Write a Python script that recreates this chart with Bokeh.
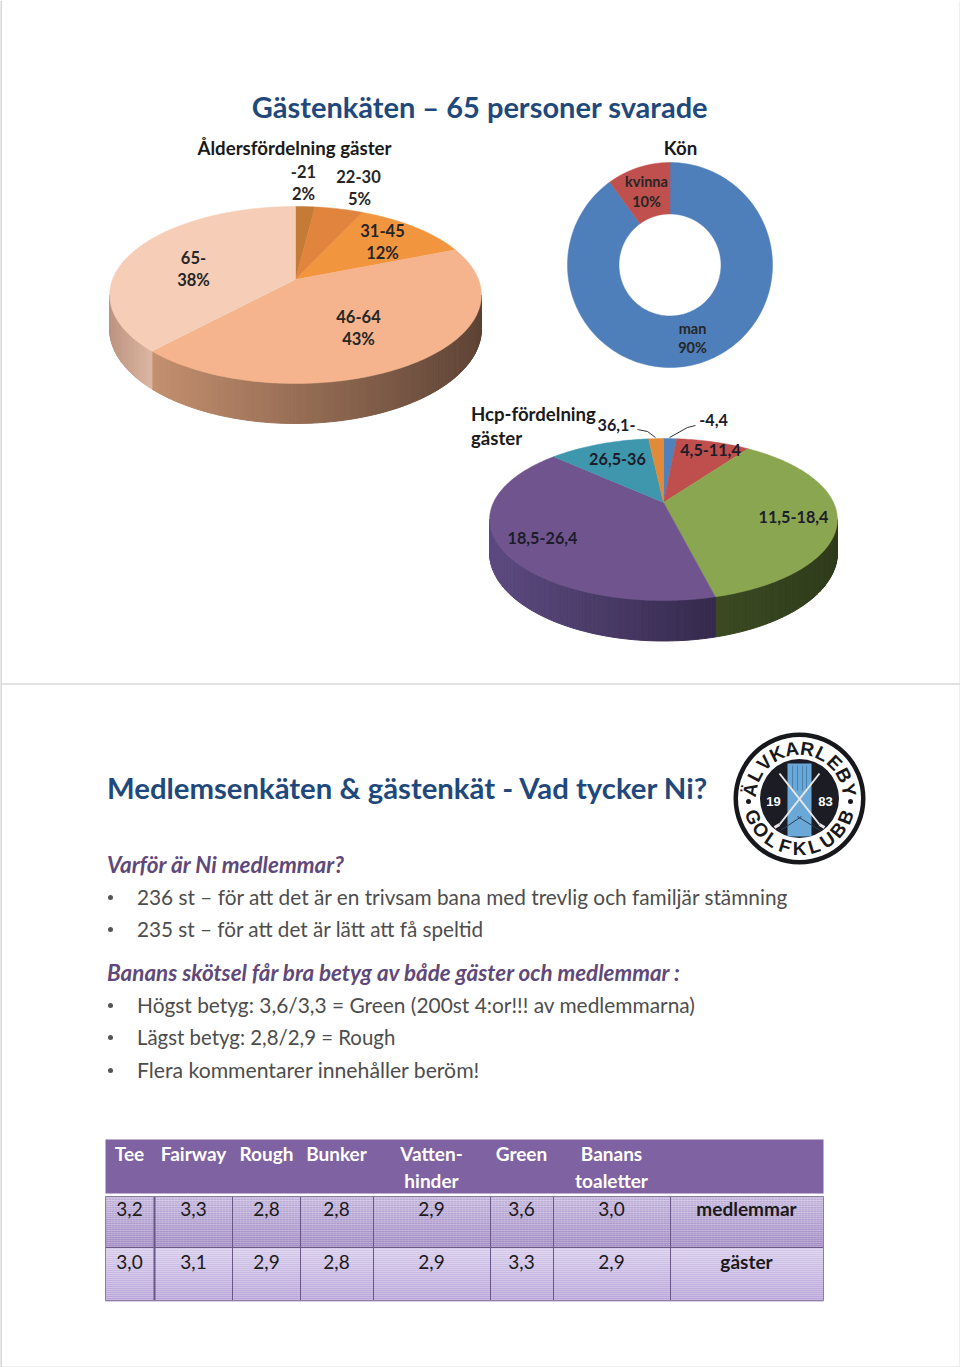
import numpy as np
from bokeh.plotting import figure
from bokeh.models import Range1d
from bokeh.core.properties import value
from bokeh.embed import file_html
from bokeh.resources import INLINE

# ---------- data ----------
age_labels = ["-21", "22-30", "31-45", "46-64", "65-"]
age_values = [2, 5, 12, 43, 38]
gender_labels = ["man", "kvinna"]
gender_values = [90, 10]
hcp_labels = ["-4,4", "4,5-11,4", "11,5-18,4", "18,5-26,4", "26,5-36", "36,1-"]
hcp_values = [1.5, 8.4, 36.2, 40.7, 11.5, 1.7]
tbl_head1 = ["Tee", "Fairway", "Rough", "Bunker", "Vatten-", "Green", "Banans"]
tbl_head2 = ["", "", "", "", "hinder", "", "toaletter"]
tbl_members = ["3,2", "3,3", "2,8", "2,8", "2,9", "3,6", "3,0"]
tbl_guests = ["3,0", "3,1", "2,9", "2,8", "2,9", "3,3", "2,9"]
tbl_rows = ["medlemmar", "gäster"]

BLUE = "#1f497d"; PURP = "#5f497a"; GREY = "#4d4d4d"; DARK = "#1a1a1a"
FONT = "Lato"

p = figure(width=960, height=1367, x_range=Range1d(0, 960), y_range=Range1d(1367, 0),
           toolbar_location=None, output_backend="svg", min_border=0)
p.axis.visible = False
p.grid.visible = False
p.outline_line_color = None
p.background_fill_color = "white"
p.border_fill_color = "white"

def T(x, y, s, size, color=DARK, style="normal", align="center", font=FONT, angle=0.0, dy=1):
    p.text(x=[x], y=[y - dy], text=[s], text_font=value(font), text_font_size=f"{size}px",
           text_color=color, text_font_style=style, text_align=align,
           text_baseline="middle", angle=[angle])

def mix(a, b, t):
    a = [int(a[i:i+2], 16) for i in (1, 3, 5)]
    b = [int(b[i:i+2], 16) for i in (1, 3, 5)]
    return "#%02x%02x%02x" % tuple(int(round(u + (v - u) * t)) for u, v in zip(a, b))

def pie3d(values, cx, cy, sx, sy, k, depth, tops, rims):
    v = np.asarray(values, float)
    edges = np.cumsum(np.r_[0, v]) / v.sum() * 2 * np.pi
    def pt(th):
        w = 1 + k * np.cos(th)
        return cx + sx * np.sin(th) / w, cy - sy * np.cos(th) / w
    th_r = np.arccos(-k)
    th_l = 2 * np.pi - th_r
    # rim
    for i in range(len(v)):
        a, b = max(edges[i], th_r), min(edges[i + 1], th_l)
        if b <= a:
            continue
        n = max(2, int((b - a) * 60))
        ths = np.linspace(a, b, n + 1)
        c0, c1 = rims[i]
        xs, ys, cs = [], [], []
        x_r = pt(a)[0]; x_l = pt(b)[0]
        for t0, t1 in zip(ths[:-1], ths[1:]):
            x0, y0 = pt(t0); x1, y1 = pt(t1)
            d0 = depth / (1 + k * np.cos(t0)); d1 = depth / (1 + k * np.cos(t1))
            xs.append([x0, x1, x1, x0]); ys.append([y0, y1, y1 + d1, y0 + d0])
            cs.append(mix(c0, c1, ((x0 + x1) / 2 - x_l) / (x_r - x_l)))
        p.patches(xs, ys, fill_color=cs, line_color=cs, line_width=1)
    # top
    for i in range(len(v)):
        ths = np.linspace(edges[i], edges[i + 1], max(3, int((edges[i + 1] - edges[i]) * 60)))
        x, y = pt(ths)
        p.patch(np.r_[cx, x], np.r_[cy, y], fill_color=tops[i], line_color=tops[i], line_width=0.5)

# slide frames
p.line([0.5, 0.5], [0, 1367], line_color="#c8c8c8", line_width=1.5)
p.line([959.5, 959.5], [0, 1367], line_color="#dedede", line_width=1)
p.line([0, 960], [683.5, 683.5], line_color="#d8d8d8", line_width=1.5)
p.line([0, 960], [1366.5, 1366.5], line_color="#dedede", line_width=1)

# ---------- top slide ----------
T(479.5, 107, "Gästenkäten – 65 personer svarade", 29, BLUE, "bold")
T(294, 148, "Åldersfördelning gäster", 18.7, DARK, "bold")
T(680, 148, "Kön", 18.7, DARK, "bold")

pie3d(age_values, 295, 279, 183, 85.8, 0.175, 33,
      ["#c47b36", "#e0843e", "#f2953f", "#f5b48d", "#f6cdb6"],
      [("#c47b36", "#c47b36"), ("#e0843e", "#e0843e"), ("#f2953f", "#f2953f"),
       ("#c4906f", "#5e4335"), ("#bd9480", "#dcb7a3")])
for x, y, s in [(303, 172, "-21"), (303, 194, "2%"), (358, 177, "22-30"), (359, 199, "5%"),
                (382, 231, "31-45"), (382, 253, "12%"), (358, 317, "46-64"), (358, 339, "43%"),
                (193, 258, "65-"), (193, 280, "38%")]:
    T(x, y, s, 16.5, "#262626", "bold")

# donut
dcx, dcy, dr0, dr1 = 669.5, 264.5, 51, 102.5
g = np.asarray(gender_values, float)
g_edges = np.cumsum(np.r_[0, g]) / g.sum() * 2 * np.pi
for i, col in enumerate(["#4f7fbb", "#bf504d"]):
    th = np.linspace(g_edges[i], g_edges[i + 1], 200)
    xs = np.r_[dcx + dr1 * np.sin(th), dcx + dr0 * np.sin(th[::-1])]
    ys = np.r_[dcy - dr1 * np.cos(th), dcy - dr0 * np.cos(th[::-1])]
    p.patch(xs, ys, fill_color=col, line_color=col, line_width=0.5)
T(646, 182, gender_labels[1], 14.5, "#262626", "bold")
T(646, 202, "10%", 14.5, "#262626", "bold")
T(692, 329, gender_labels[0], 14.5, "#262626", "bold")
T(692, 348, "90%", 14.5, "#262626", "bold")

# hcp pie
pie3d(hcp_values, 663, 502, 170, 77.4, 0.21, 32,
      ["#4f81bd", "#be4f4c", "#8aa650", "#6f548d", "#3f97ad", "#e08a3a"],
      [("#3a5f8a", "#3a5f8a"), ("#8a3a38", "#8a3a38"), ("#3b4a22", "#2f3b1b"),
       ("#5d4a80", "#352a4d"), ("#2d6d7e", "#2d6d7e"), ("#a96528", "#a96528")])
T(470.5, 414, "Hcp-fördelning", 18.6, DARK, "bold", "left")
T(470.5, 438, "gäster", 18.6, DARK, "bold", "left")
for x, y, s in [(616, 425, hcp_labels[5]), (713, 420, hcp_labels[0]), (617, 459, hcp_labels[4]),
                (710, 450, hcp_labels[1]), (793, 517, hcp_labels[2]), (542, 538, hcp_labels[3])]:
    T(x, y, s, 16.2, "#1c1c2a", "bold")
p.line([637, 647, 655], [429, 431, 437], line_color="#333333", line_width=1)
p.line([695, 687, 669], [425, 427, 437], line_color="#333333", line_width=1)

# ---------- lower slide ----------
T(106.5, 788, "Medlemsenkäten & gästenkät - Vad tycker Ni?", 29.3, BLUE, "bold", "left")
T(106.5, 865, "Varför är Ni medlemmar?", 22.5, PURP, "bold italic", "left")
T(106.5, 973, "Banans skötsel får bra betyg av både gäster och medlemmar :", 22.4, PURP, "bold italic", "left")
for y, s, fs in [(897, "236 st – för att det är en trivsam bana med trevlig och familjär stämning", 20.8),
                 (929, "235 st – för att det är lätt att få speltid", 20.7),
                 (1005, "Högst betyg: 3,6/3,3 = Green (200st 4:or!!! av medlemmarna)", 20.9),
                 (1037, "Lägst betyg: 2,8/2,9 = Rough", 20.4),
                 (1070, "Flera kommentarer innehåller beröm!", 21.2)]:
    T(136.5, y, s, fs, GREY, "normal", "left")
    p.scatter([110], [y], size=5, fill_color="#555555", line_color=None)

# logo
lx, ly = 799, 798
p.scatter([lx], [ly], size=132, fill_color="#17181c", line_color=None)
p.scatter([lx], [ly], size=123, fill_color="white", line_color=None)
p.scatter([lx], [ly], size=79, fill_color="#1c1d24", line_color=None)
p.quad(left=[787], right=[811], top=[763], bottom=[836], fill_color="#6aa8d8", line_color=None)
for x in (792, 797, 802, 806):
    p.line([x, x], [765, 790], line_color="#3f78a8", line_width=0.8)
for a, b in [((820, 830), (797, 816)), ((780, 830), (801, 816))]:
    p.line([a[0], b[0]], [a[1], b[1]], line_color="#2a3f55", line_width=1)
for a, b, sgn in [((779, 773), (819, 824), 1), ((819, 773), (779, 824), -1)]:
    p.line([a[0], b[0]], [a[1], b[1]], line_color="#e8e8e8", line_width=2)
    p.line([b[0], b[0] + 5 * sgn], [b[1], b[1] + 3], line_color="#e8e8e8", line_width=3)
T(773, 801, "19", 13, "white", "bold", font="Liberation Sans", dy=0)
T(825, 801, "83", 13, "white", "bold", font="Liberation Sans", dy=0)
top_word = "ÄLVKARLEBY"; bot_word = "GOLFKLUBB"
for i, ch in enumerate(top_word):
    a = np.radians(-80 + 160 * i / (len(top_word) - 1))
    T(lx + 50 * np.sin(a), ly - 50 * np.cos(a), ch, 19, "#17181c", "bold", font="Liberation Sans", angle=-a, dy=0)
for i, ch in enumerate(bot_word):
    a = np.radians(248 - 136 * i / (len(bot_word) - 1))
    T(lx + 50 * np.sin(a), ly - 50 * np.cos(a), ch, 19, "#17181c", "bold", font="Liberation Sans",
      angle=-(a - np.pi), dy=0)
p.scatter([lx - 51, lx + 51], [ly + 3, ly + 3], size=5, fill_color="#17181c", line_color=None)

# table
col_edges = [105, 154, 232, 300, 373, 490, 553, 670, 823]
col_mid = [129, 193, 266, 336, 431, 521, 611, 746]
p.quad(left=[105], right=[823], top=[1139], bottom=[1193], fill_color="#7f62a1", line_color=None)
def band(y0, y1, c0, c1):
    ys = np.arange(y0, y1, 2)
    p.quad(left=105, right=823, top=ys, bottom=ys + 2,
           fill_color=[mix(c0, c1, (y - y0) / (y1 - y0)) for y in ys], line_color=None)
band(1196, 1247, "#c8bbe0", "#a48dc6")
band(1247, 1300, "#d6cbeb", "#b8a3d9")
p.quad(left=[105], right=[823], top=[1196], bottom=[1247], fill_color=None, line_color=None,
       hatch_pattern="dot", hatch_color="#6a4f94", hatch_alpha=0.25, hatch_scale=3)
for x in col_edges[1:-1]:
    p.line([x, x], [1196, 1300], line_color="#6b5688", line_width=2 if x == 154 else 1)
p.line([105, 823], [1247, 1247], line_color="#6b5688", line_width=1)
p.line([105, 105, 823, 823, 105], [1196, 1300, 1300, 1196, 1196], line_color="#8a7f9c", line_width=1)
for x, a, b in zip(col_mid, tbl_head1, tbl_head2):
    T(x, 1154, a, 19, "white", "bold")
    if b:
        T(x, 1181, b, 19, "white", "bold")
for x, a, b in zip(col_mid, tbl_members, tbl_guests):
    T(x, 1209, a, 19, "#1a1a1a")
    T(x, 1262, b, 19, "#1a1a1a")
T(746, 1209, tbl_rows[0], 19, "#1a1a1a", "bold")
T(746, 1262, tbl_rows[1], 19, "#1a1a1a", "bold")

open("out.html", "w").write(file_html(p, INLINE))
